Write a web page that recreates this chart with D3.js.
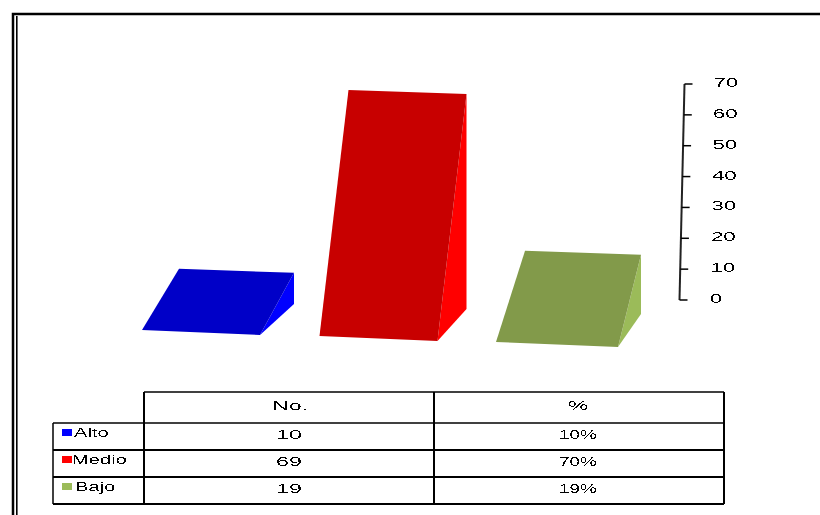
<!DOCTYPE html>
<html>
<head>
<meta charset="utf-8">
<script src="https://d3js.org/d3.v7.min.js"></script>
<style>
  html, body { margin: 0; padding: 0; background: #fff; overflow: hidden; }
  svg { display: block; }
  text { font-family: "Liberation Sans", Arial, sans-serif; fill: #000; }
</style>
</head>
<body>
<svg id="chart" width="820" height="515">
  <defs>
    <!-- hardens the text edges, the source is a low res bitmap -->
    <filter id="hard" x="-10%" y="-10%" width="120%" height="120%">
      <feComponentTransfer>
        <feFuncA type="discrete" tableValues="0 0 1 1"></feFuncA>
      </feComponentTransfer>
    </filter>
  </defs>
</svg>
<script>
var categories = ["Alto", "Medio", "Bajo"];
var counts = [10, 69, 19];
var percents = ["10%", "70%", "19%"];
var tickValues = [0, 10, 20, 30, 40, 50, 60, 70];
var frontColors = ["#0000c8", "#c80000", "#829a4a"];
var sideColors = ["#0000ff", "#ff0000", "#9bbb59"];
var headers = ["No.", "%"];

var svg = d3.select("#chart");
var textStretch = 1.78;

// the 3d look: each bar has a back corner, and the front face is pushed away from it
var height = d3.scaleLinear().domain([0, 70]).range([0, 218]);
var backX = d3.scaleOrdinal().domain(categories).range([294, 466.5, 641]);
var backY = d3.scalePoint().domain(categories).range([304, 314]);
var depthX = d3.scaleOrdinal().domain(categories).range([-34, -29, -23]);
var depthY = d3.scalePoint().domain(categories).range([31, 33]);
var widthBottom = d3.scaleOrdinal().domain(categories).range([118, 118, 122]);
var widthTop = d3.scaleOrdinal().domain(categories).range([115, 118, 116]);

var rowY = d3.scalePoint().domain(categories).range([423, 477]);
var colX = d3.scalePoint().domain(headers).range([144, 434]);

function stretch(sel, k) {
  sel.each(function() {
    var len = this.getComputedTextLength();
    d3.select(this).attr("textLength", len * k).attr("lengthAdjust", "spacingAndGlyphs");
  });
}

// page frame, double line cut by the window
svg.append("path")
  .attr("d", "M13,515V14H820")
  .attr("fill", "none")
  .attr("stroke", "#000")
  .attr("stroke-width", 2.5);
svg.append("path")
  .attr("d", "M16.8,515V16")
  .attr("fill", "none")
  .attr("stroke", "#000")
  .attr("stroke-width", 1.6);

// bars
var bars = svg.selectAll(".bar").data(categories).enter().append("g").attr("class", "bar");

bars.append("path")
  .attr("fill", function(d, i) { return sideColors[i]; })
  .attr("d", function(d, i) {
    var bx = backX(d), by = backY(d), top = by - height(counts[i]);
    return d3.line()([[bx, top], [bx, by], [bx + depthX(d), by + depthY(d)]]) + "Z";
  });

bars.append("path")
  .attr("fill", function(d, i) { return frontColors[i]; })
  .attr("d", function(d, i) {
    var bx = backX(d), by = backY(d), top = by - height(counts[i]);
    var fx = bx + depthX(d), fy = by + depthY(d);
    return d3.line()([
      [bx, top],
      [fx, fy],
      [fx - widthBottom(d), fy - 5],
      [bx - widthTop(d), top - 4]
    ]) + "Z";
  });

// slanted value axis
var axisX = d3.scaleLinear().domain([0, 70]).range([679.5, 684.5]);
var axisY = d3.scaleLinear().domain([0, 70]).range([300, 84]);

svg.append("line")
  .attr("x1", axisX(0)).attr("y1", axisY(0))
  .attr("x2", axisX(70)).attr("y2", axisY(70))
  .attr("stroke", "#222")
  .attr("stroke-width", 2);

var ticks = svg.selectAll(".tick").data(tickValues).enter().append("g").attr("class", "tick");
ticks.append("line")
  .attr("x1", function(d) { return axisX(d); })
  .attr("x2", function(d) { return axisX(d) + 8; })
  .attr("y1", function(d) { return axisY(d); })
  .attr("y2", function(d) { return axisY(d); })
  .attr("stroke", "#000")
  .attr("stroke-width", 1.5);
ticks.append("text")
  .attr("x", function(d) { return axisX(d) + 30.5 - d / 70 * 1.5; })
  .attr("y", function(d) { return axisY(d) + 3; })
  .attr("font-size", "12.5px")
  .attr("filter", "url(#hard)")
  .text(function(d) { return d; })
  .call(stretch, textStretch);

// data table under the chart
var tableLines = svg.append("g").attr("stroke", "#000").attr("fill", "none");
var left = 53, labelRight = 144, right = 724, headTop = 392, bottom = 504;

function hline(x1, x2, y, w) {
  tableLines.append("line").attr("x1", x1).attr("x2", x2).attr("y1", y).attr("y2", y).attr("stroke-width", w);
}
function vline(x, y1, y2, w) {
  tableLines.append("line").attr("x1", x).attr("x2", x).attr("y1", y1).attr("y2", y2).attr("stroke-width", w);
}

hline(labelRight, right, headTop, 1.5);
categories.forEach(function(d, i) {
  hline(left, right, rowY(d), i == 0 ? 1.3 : 2);
});
hline(left, right, bottom, 2);
vline(left, rowY("Alto"), bottom, 1.5);
vline(labelRight, headTop, bottom, 2);
vline(colX("%"), headTop, bottom, 2);
vline(right, headTop, bottom, 2);

var colWidth = colX("%") - colX("No.");

svg.selectAll(".head").data(headers).enter().append("text")
  .attr("class", "head")
  .attr("x", function(d) { return colX(d) + colWidth / 2 + (d == "%" ? -1 : 1); })
  .attr("y", 410)
  .attr("text-anchor", "middle")
  .attr("font-size", "13px")
  .attr("filter", "url(#hard)")
  .text(function(d) { return d; })
  .call(stretch, textStretch);

var rows = svg.selectAll(".row").data(categories).enter().append("g").attr("class", "row");

rows.append("rect")
  .attr("x", 62)
  .attr("y", function(d) { return rowY(d) + 6; })
  .attr("width", 10)
  .attr("height", 7)
  .attr("fill", function(d, i) { return sideColors[i]; });

rows.append("text")
  .attr("x", function(d) { return d == "Medio" ? 72 : (d == "Alto" ? 74 : 75); })
  .attr("y", function(d) { return rowY(d) + 14; })
  .attr("font-size", "13px")
  .attr("filter", "url(#hard)")
  .text(function(d) { return d; })
  .call(stretch, 1.55);

rows.append("text")
  .attr("x", colX("No.") + colWidth / 2)
  .attr("y", function(d) { return rowY(d) + 16; })
  .attr("text-anchor", "middle")
  .attr("font-size", "13px")
  .attr("filter", "url(#hard)")
  .text(function(d, i) { return counts[i]; })
  .call(stretch, textStretch);

rows.append("text")
  .attr("x", colX("%") + colWidth / 2 - 1)
  .attr("y", function(d) { return rowY(d) + 16; })
  .attr("text-anchor", "middle")
  .attr("font-size", "13px")
  .attr("filter", "url(#hard)")
  .text(function(d, i) { return percents[i]; })
  .call(stretch, 1.45);
</script>
</body>
</html>
